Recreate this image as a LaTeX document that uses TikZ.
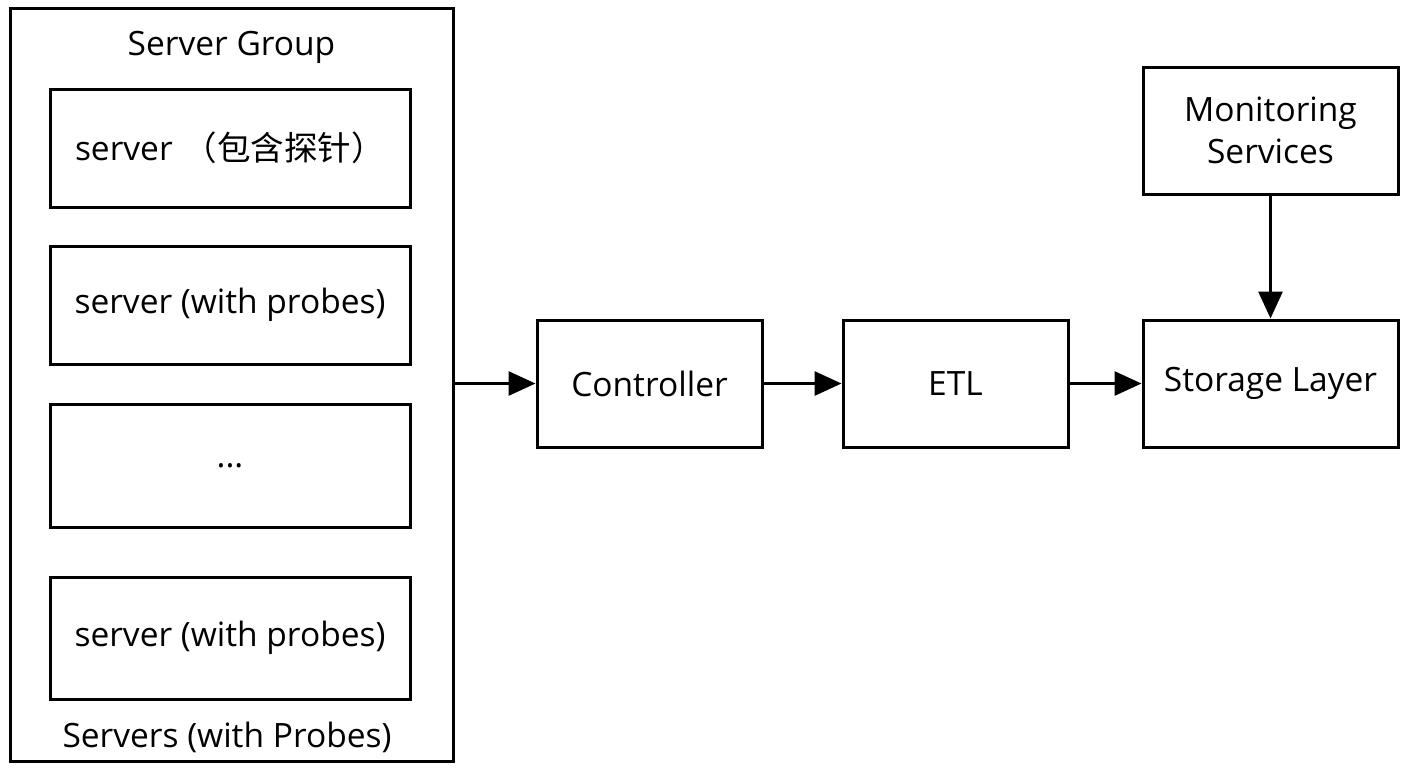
\documentclass[tikz,border=0pt]{standalone}
\usepackage{fontspec}
\setmainfont{Open Sans}
\newfontfamily\cjk{Noto Sans CJK SC}
\usetikzlibrary{arrows.meta,positioning}

\begin{document}
\begin{tikzpicture}[
    x=0.5pt, y=-0.5pt,
    node distance=40pt,
    box/.style={rectangle, draw, line width=1.5pt, minimum width=112.5pt, minimum height=63.5pt, text centered, font=\fontsize{16.75}{21}\selectfont},
    srv/.style={rectangle, draw, line width=1.5pt, minimum width=180pt, minimum height=59pt, text centered, font=\fontsize{16.75}{21}\selectfont},
    lbl/.style={font=\fontsize{16.75}{21}\selectfont},
    arrow/.style={-{Triangle[length=13.5pt, width=12pt]}, line width=1.5pt}
]
\useasboundingbox (0,0) rectangle (1408,768);
% server group
\node[draw, line width=1.5pt, minimum width=221.5pt, minimum height=376.5pt] (grp) at (231.5,384.5) {};
\node[lbl] (grptitle) at (231.5,47) {Server Group};
\node[srv, align=left, text width=155pt, inner xsep=12.5pt] (srv1) at (230,148) {server {\cjk （包含探针）}};
\node[srv] (srv2) at (230,305) {server (with probes)};
\node[srv, minimum height=61.5pt] (srv3) at (230,465.5) {...};
\node[srv, minimum height=61pt] (srv4) at (230,638) {server (with probes)};
\node[lbl] (grplabel) at (227,737) {Servers (with Probes)};
% pipeline
\node[box] (ctrl) at (649.5,383.5) {Controller};
\node[box, right=39pt of ctrl] (etl) {ETL};
\node[box, right=36pt of etl, minimum width=127.5pt] (store) {Storage Layer};
\node[box, above=61.5pt of store, minimum width=127.5pt, align=center] (mon) {Monitoring\\Services};
\draw[arrow] (grp.east |- ctrl.west) -- (ctrl.west);
\draw[arrow] (ctrl) -- (etl);
\draw[arrow] (etl) -- (store);
\draw[arrow] (mon) -- (store);
\end{tikzpicture}
\end{document}
